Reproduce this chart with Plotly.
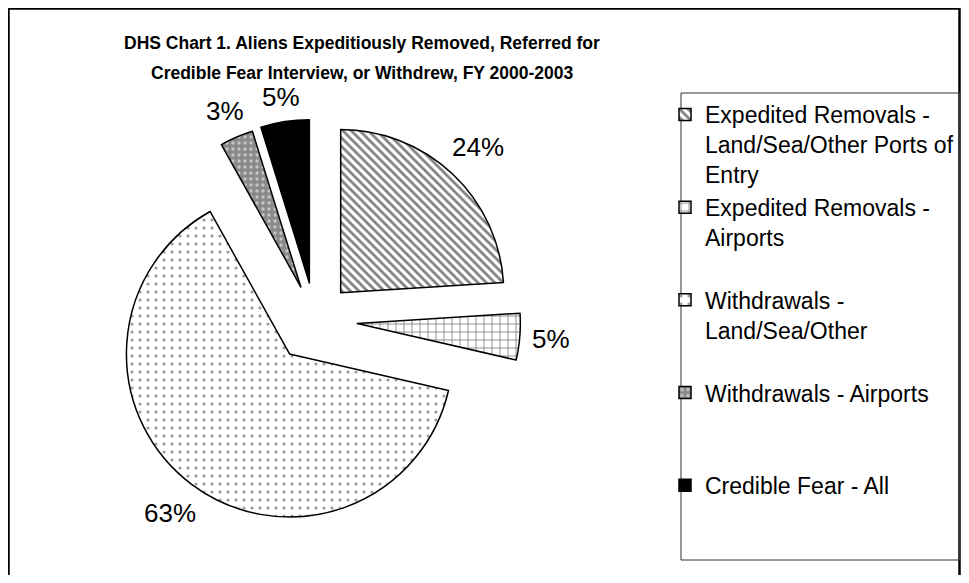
import math
import plotly.graph_objects as go

# page is rendered with an 8px body margin; figure coords = page coords - 8
# figure kept small enough to fit the 969x583 window without scrollbars
W, H = 953, 567
OFF = 8

categories = [
    "Expedited Removals -<br>Land/Sea/Other Ports of<br>Entry",
    "Expedited Removals -<br>Airports<br>\u00a0",
    "Withdrawals -<br>Land/Sea/Other<br>\u00a0",
    "Withdrawals - Airports<br>\u00a0<br>\u00a0",
    "Credible Fear - All",
]
shares = [24.0, 4.6, 63.3, 3.3, 4.8]
explode = [0.23, 0.26, 0.26, 0.22, 0.23]

fills = ["white", "white", "white", "#8a8a8a", "black"]
pat_shapes = ["\\", "+", ".", ".", ""]
pat_fg = ["black", "black", "#333333", "white", "black"]
pat_size = [6, 8, 8, 6, 8]
pat_sol = [0.45, 0.2, 0.12, 0.25, 0.3]


def px_x(v):
    return (v - OFF) / W


def px_y(v):
    return 1 - (v - OFF) / H


cx, cy, half = 315, 320, 205.5
radius = half / (1 + max(explode))
LABEL_SIZE = 26
label_font = dict(family="Liberation Sans, Arial, sans-serif", size=LABEL_SIZE, color="black")

fig = go.Figure(go.Pie(
    labels=categories,
    values=shares,
    pull=explode,
    sort=False,
    direction="clockwise",
    rotation=0,
    textinfo="none",
    marker=dict(
        colors=fills,
        line=dict(color="black", width=1.5),
        pattern=dict(shape=pat_shapes, fgcolor=pat_fg, bgcolor=fills,
                     size=pat_size, solidity=pat_sol, fillmode="overlay"),
    ),
    domain=dict(x=[px_x(cx - half), px_x(cx + half)],
                y=[px_y(cy + half), px_y(cy - half)]),
    hoverinfo="label+percent",
))

# percentage labels just outside each (pulled) slice, along its mid-angle
total = sum(shares)
annotations = []
cum = 0.0
for val, pull in zip(shares, explode):
    frac = val / total
    mid = (cum + frac / 2) * 2 * math.pi
    cum += frac
    ux, uy = math.sin(mid), -math.cos(mid)
    txt = f"{round(100 * frac)}%"
    em = sum(0.556 for ch in txt if ch.isdigit()) + 0.889
    half_w = 0.5 * em * LABEL_SIZE
    half_h = 0.38 * LABEL_SIZE
    d = radius * (1 + pull) + half_w * abs(ux) + half_h * abs(uy) + 12
    annotations.append(dict(
        text=txt, x=px_x(cx + ux * d), y=px_y(cy + uy * d),
        xref="paper", yref="paper", xanchor="center", yanchor="middle",
        showarrow=False, font=label_font))

annotations += [
    dict(text="<b>DHS Chart 1. Aliens Expeditiously Removed, Referred for</b>",
         x=px_x(362), y=px_y(43), xref="paper", yref="paper",
         xanchor="center", yanchor="middle", showarrow=False,
         font=dict(family="Liberation Sans, Arial, sans-serif", size=17.5, color="black")),
    dict(text="<b>Credible Fear Interview, or Withdrew, FY 2000-2003</b>",
         x=px_x(362), y=px_y(73), xref="paper", yref="paper",
         xanchor="center", yanchor="middle", showarrow=False,
         font=dict(family="Liberation Sans, Arial, sans-serif", size=17.5, color="black")),
]

fig.update_layout(
    width=W, height=H,
    margin=dict(l=0, r=0, t=0, b=0),
    paper_bgcolor="white",
    showlegend=True,
    legend=dict(
        x=px_x(665), xanchor="left",
        y=px_y(93), yanchor="top",
        valign="top",
        bgcolor="rgba(0,0,0,0)",
        borderwidth=0,
        font=dict(family="Liberation Sans, Arial, sans-serif", size=23, color="black"),
        traceorder="normal",
    ),
    shapes=[
        dict(type="rect", xref="paper", yref="paper",
             x0=px_x(8.5), x1=px_x(959.5), y0=px_y(600), y1=px_y(8.5),
             line=dict(color="black", width=2.5)),
        dict(type="rect", xref="paper", yref="paper",
             x0=px_x(681), x1=px_x(959.5), y0=px_y(560), y1=px_y(93),
             line=dict(color="#333333", width=1)),
    ],
    annotations=annotations,
)

fig.write_html("out.html")
